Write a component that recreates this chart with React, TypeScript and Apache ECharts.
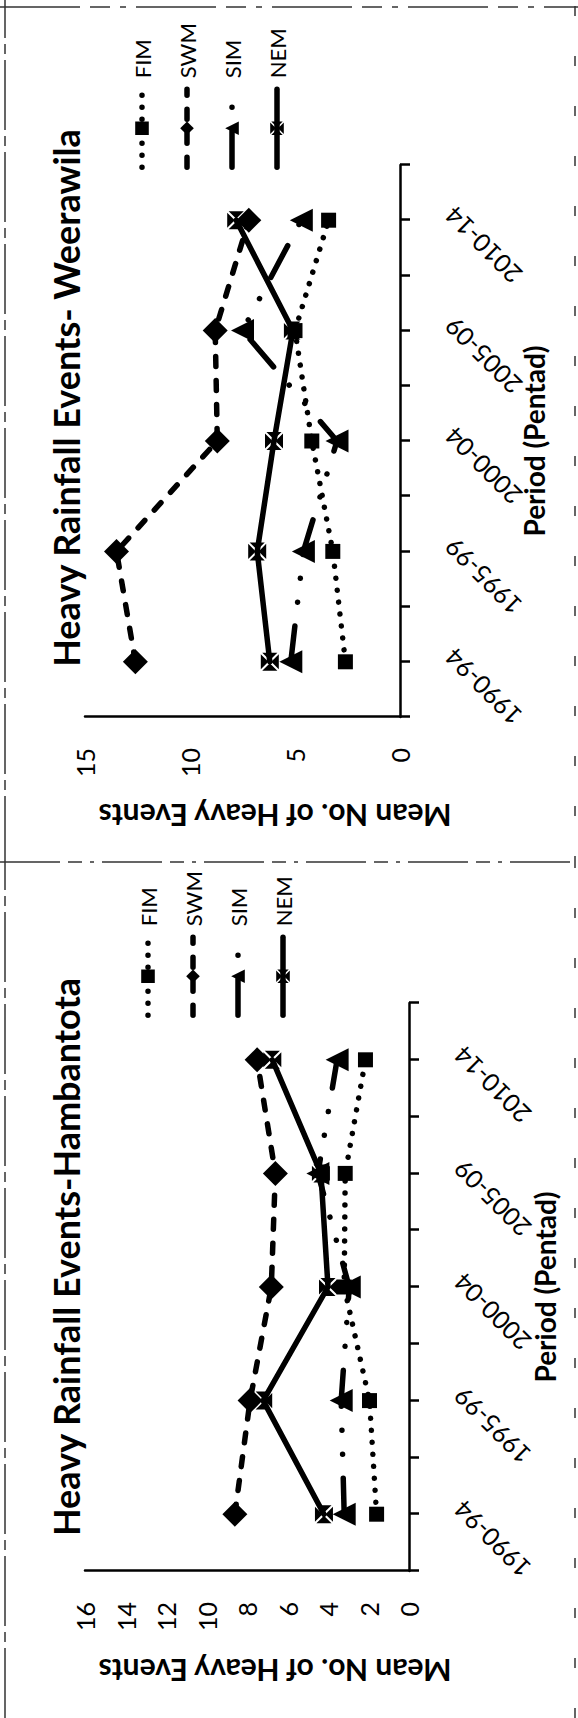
import React, { useEffect, useRef } from 'react';
import * as echarts from 'echarts';

// Five-year periods shown on the category axis
const periods = ['1990-94', '1995-99', '2000-04', '2005-09', '2010-14'];
const seriesNames = ['FIM', 'SWM', 'SIM', 'NEM'];

// Mean number of heavy rainfall events per monsoon season — Hambantota
const hambFIM = [1.6, 1.95, 3.2, 3.15, 2.15];
const hambSWM = [8.6, 7.85, 6.8, 6.6, 7.5];
const hambSIM = [3.2, 3.35, 2.95, 4.5, 3.55];
const hambNEM = [4.2, 7.2, 4.0, 4.35, 6.75];

// Mean number of heavy rainfall events per monsoon season — Weerawila
const weerFIM = [2.6, 3.2, 4.2, 5.0, 3.4];
const weerSWM = [12.6, 13.5, 8.7, 8.8, 7.2];
const weerSIM = [5.2, 4.6, 3.0, 7.5, 4.7];
const weerNEM = [6.2, 6.8, 6.0, 5.1, 7.8];

const FONT = 'Lato, "Open Sans", sans-serif';

// The category axis runs in half steps: a blank slot before, between and after periods
const axisSlots: string[] = [''];
periods.forEach((p) => {
  axisSlots.push(p, '');
});

function toSlots(values: number[]) {
  const out: (number | null)[] = axisSlots.map(() => null);
  values.forEach((v, i) => {
    out[2 * i + 1] = v;
  });
  return out;
}

// Square with a white diagonal cross
const crossBox =
  'path://M1.6 0L18.4 0L10 8.4Z M20 1.6L20 18.4L11.6 10Z M1.6 20L18.4 20L10 11.6Z M0 1.6L0 18.4L8.4 10Z';

type PanelCfg = {
  title: string;
  values: number[][];
  yMax: number;
  yStep: number;
  grid: { left: number; top: number; width: number; height: number };
  legendLeft: number;
  legendTop: number;
  titlePos: [number, number];
  yNamePos: [number, number];
  xNamePos: [number, number];
  frame: any[];
};

function frameLine(x1: number, y1: number, x2: number, y2: number, dash: number[]) {
  return {
    type: 'line',
    silent: true,
    shape: { x1, y1, x2, y2 },
    style: { stroke: '#333', lineWidth: 1.5, lineDash: dash },
  };
}

const LINE_W = 5.5;

function buildOption(cfg: PanelCfg) {
  const lineStyles = [
    { type: [0.01, 12], width: LINE_W, cap: 'round' },
    { type: [10, 14], width: LINE_W, cap: 'round' },
    { type: [36, 24, 0.01, 24, 0.01, 24], width: LINE_W, cap: 'round' },
    { type: 'solid', width: LINE_W, cap: 'round' },
  ];
  const symbols = ['rect', 'diamond', 'triangle', crossBox];
  const symbolSizes = [15, 25, 23, 18];

  return {
    animation: false,
    grid: { ...cfg.grid, containLabel: false },
    xAxis: {
      type: 'category',
      data: axisSlots,
      boundaryGap: false,
      axisLine: { show: true, lineStyle: { color: '#000', width: 2.5 } },
      axisTick: { show: true, interval: 0, length: 10, inside: false, lineStyle: { color: '#000', width: 2.5 } },
      axisLabel: {
        interval: 0,
        rotate: 45,
        margin: 40,
        align: 'right',
        verticalAlign: 'top',
        color: '#000',
        fontFamily: FONT,
        fontSize: 25,
      },
      splitLine: { show: false },
    },
    yAxis: {
      type: 'value',
      min: 0,
      max: cfg.yMax,
      interval: cfg.yStep,
      axisLine: { show: true, lineStyle: { color: '#000', width: 2.5 } },
      axisTick: { show: false },
      axisLabel: { margin: 31, color: '#000', fontFamily: FONT, fontSize: 25 },
      splitLine: { show: false },
    },
    legend: {
      orient: 'vertical',
      left: cfg.legendLeft,
      top: cfg.legendTop,
      itemWidth: 78,
      itemHeight: 17,
      itemGap: 23,
      data: seriesNames,
      lineStyle: { width: LINE_W },
      textStyle: { fontFamily: FONT, fontSize: 22, color: '#000', padding: [0, 0, 0, 6] },
    },
    series: seriesNames.map((name, i) => ({
      name,
      type: 'line',
      data: toSlots(cfg.values[i]),
      connectNulls: true,
      symbol: symbols[i],
      symbolSize: symbolSizes[i],
      showAllSymbol: true,
      z: 2 + i,
      itemStyle: { color: '#000', borderWidth: 0 },
      lineStyle: { color: '#000', join: 'round', ...lineStyles[i] },
    })),
    graphic: [
      ...cfg.frame,
      {
        type: 'text',
        x: cfg.titlePos[0],
        y: cfg.titlePos[1],
        style: {
          text: cfg.title,
          fill: '#000',
          font: `bold 36px ${FONT}`,
          align: 'center',
          verticalAlign: 'middle',
        },
      },
      {
        type: 'text',
        x: cfg.yNamePos[0],
        y: cfg.yNamePos[1],
        rotation: Math.PI / 2,
        style: {
          text: 'Mean No. of Heavy Events',
          fill: '#000',
          font: `bold 30px ${FONT}`,
          align: 'center',
          verticalAlign: 'middle',
        },
      },
      {
        type: 'text',
        x: cfg.xNamePos[0],
        y: cfg.xNamePos[1],
        style: {
          text: 'Period (Pentad)',
          fill: '#000',
          font: `bold 28px ${FONT}`,
          align: 'center',
          verticalAlign: 'middle',
        },
      },
    ],
  };
}

// Left panel spans 0..852 of the landscape sheet, right panel 852..1718
const SPLIT = 852;

const hambantota: PanelCfg = {
  title: 'Heavy Rainfall Events-Hambantota',
  values: [hambFIM, hambSWM, hambSIM, hambNEM],
  yMax: 16,
  yStep: 2,
  grid: { left: 147, top: 85, width: 568, height: 324 },
  legendLeft: 695,
  legendTop: 132,
  titlePos: [461, 66],
  yNamePos: [47, 275],
  xNamePos: [431, 545],
  frame: [
    frameLine(0, 5, SPLIT, 5, [70, 6, 10, 6]),
    frameLine(0, 575, SPLIT, 575, [10, 40]),
  ],
};

const weerawila: PanelCfg = {
  title: 'Heavy Rainfall Events- Weerawila',
  values: [weerFIM, weerSWM, weerSIM, weerNEM],
  yMax: 15,
  yStep: 5,
  grid: { left: 1001 - SPLIT, top: 85, width: 552, height: 315 },
  legendLeft: 1543 - SPLIT,
  legendTop: 126,
  titlePos: [1320 - SPLIT, 66],
  yNamePos: [902 - SPLIT, 275],
  xNamePos: [1277 - SPLIT, 534],
  frame: [
    frameLine(0, 5, 1718 - SPLIT, 5, [70, 6, 10, 6]),
    frameLine(0, 575, 1718 - SPLIT, 575, [10, 40]),
    frameLine(856 - SPLIT, 0, 856 - SPLIT, 578, [60, 8, 14, 8, 4, 8]),
    frameLine(1711 - SPLIT, 0, 1711 - SPLIT, 578, [80, 10, 20, 10, 6, 10]),
  ],
};

export default function App() {
  const hambRef = useRef<HTMLDivElement>(null);
  const weerRef = useRef<HTMLDivElement>(null);

  useEffect(() => {
    const a = echarts.init(hambRef.current!, undefined, { renderer: 'svg' });
    a.setOption(buildOption(hambantota) as any);
    const b = echarts.init(weerRef.current!, undefined, { renderer: 'svg' });
    b.setOption(buildOption(weerawila) as any);
    return () => {
      a.dispose();
      b.dispose();
    };
  }, []);

  return (
    <div
      style={{
        position: 'absolute',
        left: 0,
        top: 0,
        width: 578,
        height: 1718,
        overflow: 'hidden',
        background: '#fff',
      }}
    >
      <div
        style={{
          position: 'absolute',
          left: 0,
          top: 0,
          width: 1718,
          height: 578,
          transformOrigin: '0 0',
          transform: 'translateY(1718px) rotate(-90deg)',
        }}
      >
        <div
          ref={hambRef}
          style={{ position: 'absolute', left: 0, top: 0, width: SPLIT, height: 578, overflow: 'hidden' }}
        />
        <div
          ref={weerRef}
          style={{ position: 'absolute', left: SPLIT, top: 0, width: 1718 - SPLIT, height: 578, overflow: 'hidden' }}
        />
      </div>
    </div>
  );
}
